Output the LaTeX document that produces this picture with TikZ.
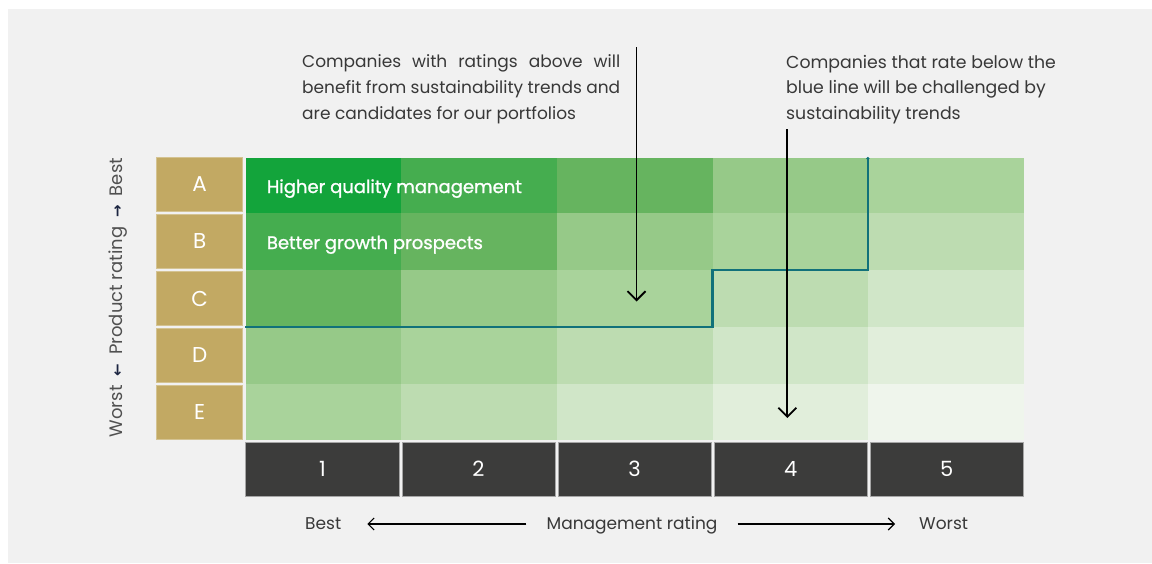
\documentclass[tikz,border=0pt]{standalone}
\usepackage{fontspec}
\setmainfont{Poppins}
\newfontfamily\medfont{Poppins}[FakeBold=1.2]
\newfontfamily\symfont{DejaVu Sans}
\usetikzlibrary{arrows.meta}
\definecolor{bgc}{HTML}{F1F1F1}
\definecolor{tanc}{HTML}{C2A963}
\definecolor{darkc}{HTML}{3C3C3B}
\definecolor{tealc}{HTML}{11717A}
\definecolor{txtc}{HTML}{383838}
\definecolor{lblc}{HTML}{505050}
\definecolor{navyc}{HTML}{1C2541}
\definecolor{g0}{HTML}{13A43B}
\definecolor{g1}{HTML}{45AD4F}
\definecolor{g2}{HTML}{66B45F}
\definecolor{g3}{HTML}{96C988}
\definecolor{g4}{HTML}{A9D39B}
\definecolor{g5}{HTML}{BDDCB1}
\definecolor{g6}{HTML}{D0E6C8}
\definecolor{g7}{HTML}{E1EEDB}
\definecolor{g8}{HTML}{EFF5EC}
\tikzset{
  letterbox/.style={fill=tanc, draw=tanc!70!white, line width=0.6pt, minimum width=86pt, minimum height=54pt, inner sep=0pt, text=white, font=\fontsize{21.5}{24}\selectfont},
  numbox/.style={fill=darkc, draw=gray!70, line width=0.6pt, minimum width=153.3pt, minimum height=54pt, inner sep=0pt, text=white, font=\fontsize{21}{24}\selectfont},
  celltext/.style={anchor=base west, inner sep=0pt, text=white, font=\medfont\fontsize{18}{22}\selectfont},
  callout/.style={anchor=base west, inner sep=0pt, text=txtc},
  bottomlbl/.style={inner sep=0pt, text=txtc, text height=13pt, text depth=3pt, font=\fontsize{17}{20}\selectfont},
  bigarrow/.style={line width=1.8pt, -{Straight Barb[length=9pt,width=18pt,line width=1.8pt]}},
  smallarrow/.style={line width=1.1pt, -{Straight Barb[length=6pt,width=12pt,line width=1.1pt]}},
  blueline/.style={tealc, line width=2.2pt}
}
\begin{document}
\begin{tikzpicture}[x=1pt,y=-1pt]
\useasboundingbox (0,0) rectangle (1152,563);
\fill[white] (0,0) rectangle (1152,563);
\fill[bgc] (8,9) rectangle (1152,563);
% green grid
\foreach \r/\yt/\yb in {0/157.5/213, 1/213/270, 2/270/327, 3/327/384, 4/384/440}{
  \foreach \c in {0,...,4}{
    \pgfmathtruncatemacro\lv{\c+\r}
    \fill[fill=g\lv] (245.5+155.7*\c,\yt) rectangle (245.5+155.7*\c+155.7,\yb);
  }
}
% letter boxes
\foreach \L/\yc in {A/184.5, B/241.5, C/298.5, D/355.5, E/412.3}{
  \node[letterbox] (L\L) at (199.7,\yc) {\L};
}
% number boxes
\foreach \n in {1,...,5}{
  \node[numbox] (N\n) at (322.4+156.1*\n-156.1,469.2) {\n};
}
% cell texts
\node[celltext] (hq) at (266.7,193) {Higher quality management};
\node[celltext] (bg) at (266.7,249) {Better growth prospects};
% blue line
\draw[blueline] (245,326.7) -- (712.5,326.7) -- (712.5,270) -- (867.8,270) -- (867.8,158.5);
\fill[tealc] (867.8,158.5) circle (1.7pt);
% callouts
\node[callout] (c1) at (302,67) {\parbox[t]{318pt}{\fontsize{17}{26}\selectfont Companies with ratings above will\linebreak benefit from sustainability trends and\linebreak are candidates for our portfolios}};
\node[callout] (c2) at (786,68) {\parbox[t]{300pt}{\raggedright\fontsize{17.3}{25.5}\selectfont Companies that rate below the\\ blue line will be challenged by\\ sustainability trends}};
\coordinate (a1s) at (636.5,47);
\coordinate (a1e) at (636.5,301.5);
\coordinate (a2s) at (787.3,129);
\coordinate (a2e) at (787.3,418);
\draw[bigarrow] (a1s) -- (a1e);
\draw[bigarrow] (a2s) -- (a2e);
% y axis label
\node[rotate=90, inner sep=0pt, text=lblc, font=\fontsize{18}{20}\selectfont] (ylab) at (118,297.5) {Worst\enspace{\symfont\bfseries\color{navyc}\fontsize{15}{15}\selectfont ←}\enspace Product rating\enspace{\symfont\bfseries\color{navyc}\fontsize{15}{15}\selectfont →}\enspace Best};
% bottom labels
\node[bottomlbl, anchor=base west] (best) at (305,529) {Best};
\node[bottomlbl, anchor=base] (mgmt) at (632,529) {Management rating};
\node[bottomlbl, anchor=base west] (worst) at (919,529) {Worst};
\draw[smallarrow, shorten <=20pt, shorten >=26pt] (mgmt.west) -- (best.east);
\draw[smallarrow, shorten <=20pt, shorten >=24pt] (mgmt.east) -- (worst.west);
\end{tikzpicture}
\end{document}
